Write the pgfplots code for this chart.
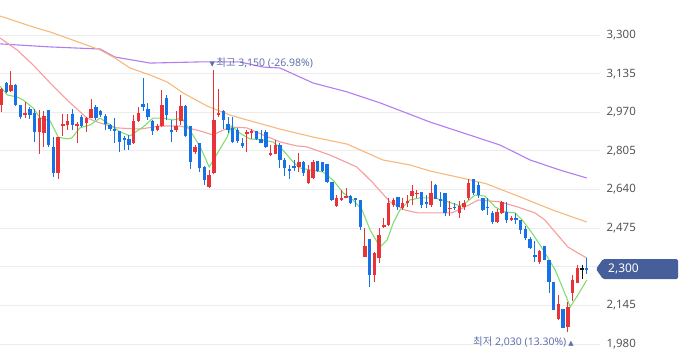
\documentclass[border=0pt]{standalone}
\usepackage{pgfplots}
\pgfplotsset{compat=1.18}
\usepackage{pgfplotstable}
\usepackage{fontspec}
\setmainfont{Noto Sans}
\newfontfamily\kr{Noto Sans CJK KR}
\newfontfamily\sym{DejaVu Sans}
\definecolor{cred}{RGB}{232,52,56}
\definecolor{cblue}{RGB}{22,114,230}
\definecolor{cblack}{RGB}{20,20,20}
\definecolor{magreen}{RGB}{128,222,112}
\definecolor{mapink}{RGB}{248,156,156}
\definecolor{maorange}{RGB}{248,184,124}
\definecolor{mapurple}{RGB}{178,124,242}
\definecolor{gridgray}{RGB}{236,236,236}
\definecolor{labgray}{RGB}{85,85,85}
\definecolor{annot}{RGB}{96,112,172}
\definecolor{boxblue}{RGB}{70,94,154}

\pgfplotstableread{
i o h l c t
0 3001 3072 2970 3069 1
1 3095 3099 3052 3057 0
2 3061 3146 3057 3086 1
3 3086 3090 2995 3001 0
4 3001 3001 2941 2950 0
5 2958 3014 2945 2966 1
6 2984 2992 2941 2958 0
7 2966 2984 2843 2886 0
8 2886 2980 2792 2945 1
9 2882 2975 2822 2954 1
10 2980 2980 2820 2830 0
11 2822 2864 2693 2710 0
12 2710 2866 2685 2864 1
13 2912 2962 2868 2918 1
14 2916 2962 2894 2933 1
15 2962 2984 2894 2916 0
16 2912 2928 2840 2920 1
17 2950 2958 2905 2912 0
18 2924 2950 2886 2945 1
19 2945 3027 2945 2984 1
20 2992 3001 2937 2945 0
21 2975 2980 2950 2958 0
22 2954 2962 2894 2920 0
23 2916 2920 2890 2898 0
24 2898 2945 2840 2890 0
25 2890 2890 2800 2843 0
26 2860 2868 2809 2851 0
27 2855 2873 2809 2830 0
28 2838 2958 2834 2933 1
29 2933 2992 2930 2967 1
30 3005 3116 2975 2992 0
31 2984 3010 2937 2950 0
32 2933 2937 2873 2890 0
33 2894 2920 2890 2912 1
34 2912 3065 2905 3001 1
35 3031 3044 2937 2958 0
36 2894 2937 2843 2886 0
37 2894 2975 2886 2912 1
38 2933 3044 2916 2997 1
39 2997 3001 2864 2868 0
40 2912 2912 2727 2757 0
41 2800 2830 2790 2821 1
42 2838 2838 2715 2732 0
43 2736 2740 2659 2681 0
44 2651 2723 2648 2702 1
45 2710 3150 2706 2937 1
46 2958 3069 2950 2966 1
47 2975 2980 2900 2937 0
48 2920 2950 2880 2894 0
49 2903 2950 2838 2843 0
50 2894 2903 2840 2847 0
51 2838 2860 2817 2826 0
52 2877 2894 2800 2886 1
53 2881 2898 2855 2890 1
54 2890 2890 2851 2856 0
55 2856 2894 2838 2838 0
56 2886 2894 2817 2822 0
57 2787 2830 2783 2796 1
58 2792 2851 2790 2830 1
59 2830 2838 2732 2766 0
60 2766 2775 2698 2732 0
61 2728 2745 2685 2719 0
62 2740 2766 2720 2736 0
63 2736 2796 2715 2757 1
64 2757 2760 2698 2710 0
65 2668 2745 2664 2723 1
66 2689 2766 2685 2757 1
67 2762 2762 2715 2719 0
68 2757 2757 2715 2719 0
69 2749 2749 2668 2672 0
70 2672 2672 2590 2595 0
71 2570 2616 2565 2604 1
72 2595 2638 2590 2604 1
73 2604 2646 2604 2612 1
74 2612 2616 2578 2582 0
75 2604 2604 2565 2595 0
76 2595 2595 2467 2480 0
77 2352 2475 2352 2399 1
78 2429 2429 2224 2275 0
79 2275 2373 2245 2369 1
80 2347 2475 2326 2446 1
81 2480 2518 2475 2488 1
82 2488 2604 2484 2582 1
83 2574 2604 2565 2595 1
84 2608 2608 2552 2565 0
85 2561 2604 2552 2582 1
86 2582 2616 2565 2591 1
87 2612 2659 2574 2634 1
88 2621 2638 2604 2625 1
89 2629 2629 2561 2574 0
90 2587 2616 2561 2578 0
91 2574 2676 2565 2625 1
92 2659 2664 2599 2599 0
93 2599 2629 2565 2591 0
94 2625 2625 2527 2540 0
95 2557 2591 2527 2561 1
96 2565 2582 2552 2561 0
97 2540 2591 2520 2570 1
98 2565 2595 2552 2582 1
99 2604 2685 2595 2668 1
100 2685 2685 2616 2625 0
101 2659 2672 2604 2616 0
102 2604 2604 2548 2552 0
103 2565 2604 2531 2561 0
104 2540 2548 2493 2501 0
105 2501 2557 2497 2544 1
106 2540 2591 2535 2587 1
107 2544 2587 2497 2510 0
108 2510 2527 2505 2518 1
109 2518 2540 2493 2510 0
110 2510 2510 2450 2467 0
111 2471 2484 2424 2433 0
112 2429 2437 2386 2390 0
113 2360 2420 2330 2352 0
114 2330 2382 2322 2377 1
115 2399 2399 2339 2339 0
116 2339 2339 2198 2245 0
117 2245 2245 2125 2125 0
118 2087 2189 2083 2151 1
119 2130 2130 2049 2049 0
120 2053 2160 2030 2138 1
121 2198 2275 2164 2253 1
122 2240 2317 2240 2305 1
123 2300 2317 2258 2300 2
124 2305 2347 2279 2296 0
}\candles

\pgfplotsset{
  wickplot/.style 2 args={draw=none, mark=none, forget plot,
    restrict y to domain=1000:4000,
    error bars/.cd, y dir=both, y explicit, error mark=none,
    error bar style={draw=#1, line width=#2}},
}

\begin{document}
\begin{tikzpicture}
\useasboundingbox (0,0) rectangle (680bp,358bp);
\begin{axis}[
  at={(0,0)}, anchor=south west,
  scale only axis, width=600bp, height=358bp,
  xmin=-0.32, xmax=126.8,
  ymin=1920, ymax=3449.5,
  xtick=\empty,
  ytick={1980,2145,2310,2475,2640,2805,2970,3135,3300},
  yticklabels={{1,980},{2,145},{},{2,475},{2,640},{2,805},{2,970},{3,135},{3,300}},
  yticklabel pos=right,
  ymajorgrids, grid style={draw=gridgray, line width=0.9bp},
  axis line style={draw=none},
  major tick length=0pt,
  yticklabel style={font=\fontsize{11.5}{13}\selectfont, text=labgray, anchor=west, xshift=3bp},
]
% moving averages
\addplot[mapurple, line width=1.1bp] coordinates {
(-0.3,3262) (10.3,3249) (20.9,3240) (24.0,3206) (31.5,3180) (42.1,3185) (50.5,3185)
(55.4,3163) (59.0,3159) (66.0,3095) (73.2,3057) (80.2,3010) (90.8,2928) (105.6,2830)
(112.0,2766) (118.3,2723) (124.0,2689)};
\addplot[maorange, line width=1.1bp] coordinates {
(-0.3,3381) (6.7,3334) (10.3,3313) (13.9,3287) (20.9,3236) (24.0,3202) (27.2,3159)
(31.5,3129) (35.1,3099) (38.5,3052) (43.5,2997) (48.4,2958) (52.0,2937) (59.0,2898)
(66.0,2864) (73.2,2834) (80.8,2766) (86.5,2745) (90.8,2719) (99.3,2681) (102.9,2663)
(109.9,2608) (116.8,2552) (124.0,2501)};
\addplot[mapink, line width=1.1bp] coordinates {
(-0.3,3287) (3.3,3236) (6.7,3172) (10.3,3095) (13.9,3022) (18.1,2945) (20.9,2924)
(24.5,2903) (29.3,2898) (33.6,2911) (37.8,2911) (42.1,2890) (44.8,2873) (48.4,2907)
(52.0,2903) (55.4,2873) (59.0,2843) (62.6,2826) (64.7,2822) (69.6,2787) (75.3,2736)
(78.7,2668) (82.3,2587) (85.5,2552) (88.2,2540) (95.4,2540) (98.2,2565) (101.0,2595)
(105.6,2587) (109.4,2565) (113.0,2540) (115.1,2510) (117.3,2458) (120.0,2394)
(122.1,2369) (124.0,2347)};
\addplot[magreen, line width=1.1bp] coordinates {
(-0.3,3082) (1.2,3044) (3.3,3035) (4.6,3022) (6.7,2988) (8.2,2945) (10.3,2933)
(12.0,2864) (13.9,2856) (14.9,2860) (16.6,2903) (18.8,2916) (20.9,2945) (23.0,2916)
(25.1,2886) (27.2,2869) (30.0,2907) (32.1,2945) (34.2,2945) (36.3,2937) (38.2,2945)
(39.9,2894) (42.1,2822) (44.0,2736) (45.9,2800) (47.8,2864) (48.8,2911) (50.5,2881)
(52.6,2856) (55.4,2851) (57.5,2843) (59.6,2809) (61.8,2757) (63.2,2732) (65.4,2723)
(68.1,2715) (70.2,2681) (72.4,2625) (74.5,2595) (76.4,2552) (78.1,2467) (80.2,2394)
(81.7,2424) (83.0,2497) (84.4,2552) (86.5,2595) (88.7,2604) (91.8,2604) (95.4,2582)
(97.1,2570) (98.6,2587) (100.3,2616) (102.4,2612) (104.6,2565) (106.7,2544)
(108.8,2540) (110.3,2510) (112.4,2454) (114.1,2403) (115.8,2347) (117.3,2296)
(118.8,2224) (120.5,2138) (122.1,2189) (124.0,2253)};
% wicks
\addplot[wickplot={cred}{1bp}] table[x=i,
  y expr={\thisrow{t}==1 ? (\thisrow{h}+\thisrow{l})/2 : -500},
  y error expr={(\thisrow{h}-\thisrow{l})/2}] {\candles};
\addplot[wickplot={cblue}{1bp}] table[x=i,
  y expr={\thisrow{t}==0 ? (\thisrow{h}+\thisrow{l})/2 : -500},
  y error expr={(\thisrow{h}-\thisrow{l})/2}] {\candles};
\addplot[wickplot={cblack}{1bp}] table[x=i,
  y expr={\thisrow{t}==2 ? (\thisrow{h}+\thisrow{l})/2 : -500},
  y error expr={(\thisrow{h}-\thisrow{l})/2}] {\candles};
% bodies
\addplot[wickplot={cred}{3.4bp}] table[x=i,
  y expr={\thisrow{t}==1 ? (\thisrow{o}+\thisrow{c})/2 : -500},
  y error expr={max(abs(\thisrow{c}-\thisrow{o})/2,2.5)}] {\candles};
\addplot[wickplot={cblue}{3.4bp}] table[x=i,
  y expr={\thisrow{t}==0 ? (\thisrow{o}+\thisrow{c})/2 : -500},
  y error expr={max(abs(\thisrow{c}-\thisrow{o})/2,2.5)}] {\candles};
\addplot[wickplot={cblack}{3.4bp}] table[x=i,
  y expr={\thisrow{t}==2 ? (\thisrow{o}+\thisrow{c})/2 : -500},
  y error expr={max(abs(\thisrow{c}-\thisrow{o})/2,2.5)}] {\candles};
\coordinate (peak) at (axis cs:45,3150);
\coordinate (low) at (axis cs:120,2030);
\coordinate (lastp) at (axis cs:126.8,2300);
\end{axis}
\node[anchor=west, inner sep=0pt, text=annot, font=\fontsize{10.5}{12}\selectfont]
  at ([xshift=-4.5bp, yshift=7bp]peak) {{\sym\fontsize{7}{8}\selectfont ▼}\kern1.5bp{\kr 최고} 3,150 (-26.98\%)};
\node[anchor=east, inner sep=0pt, text=annot, font=\fontsize{10.5}{12}\selectfont]
  at ([xshift=6bp, yshift=-10bp]low) {{\kr 최저} 2,030 (13.30\%)\kern2bp{\sym\fontsize{7}{8}\selectfont ▲}};
\fill[boxblue, rounded corners=1.5bp] ([xshift=-4bp]lastp) -- ++(7bp,10bp) -- ++(75bp,0) -- ++(0,-20bp) -- ++(-75bp,0) -- cycle;
\node[anchor=west, inner sep=0pt, text=white, font=\fontsize{12}{14}\selectfont] at ([xshift=8bp]lastp) {2,300};
\end{tikzpicture}
\end{document}
